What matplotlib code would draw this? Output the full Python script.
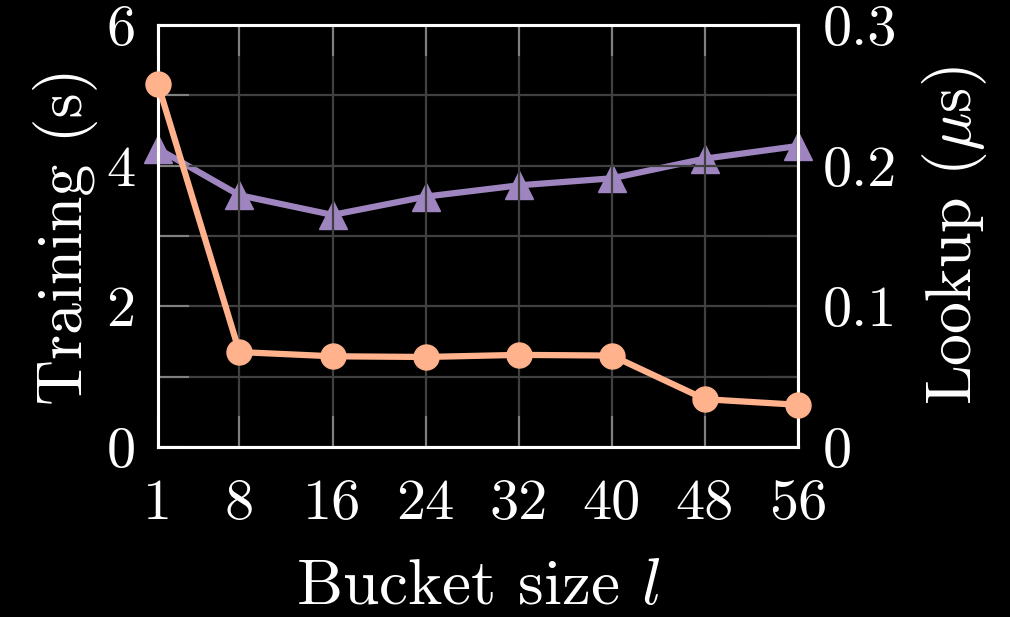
import matplotlib
matplotlib.use("Agg")
import matplotlib.pyplot as plt
from matplotlib.ticker import MultipleLocator, FixedLocator

# Bucket size sweep
bucket_sizes = [1, 8, 16, 24, 32, 40, 48, 56]
training_s = [5.16, 1.35, 1.29, 1.28, 1.31, 1.30, 0.68, 0.60]
lookup_us = [0.212, 0.179, 0.165, 0.178, 0.186, 0.191, 0.205, 0.214]

left_ticks = [0, 2, 4, 6]
right_ticks = [0, 0.1, 0.2, 0.3]
right_tick_labels = ["0", "0.1", "0.2", "0.3"]

ORANGE = "#ffb28b"
PURPLE = "#9f85c0"

plt.rcParams.update({
    "font.family": "cmr10",
    "mathtext.fontset": "cm",
    "axes.formatter.use_mathtext": True,
    "figure.facecolor": "black",
    "axes.facecolor": "black",
    "text.color": "white",
})

fig = plt.figure(figsize=(10.1, 6.17), dpi=100)
ax = fig.add_axes([0.1564, 0.2755, 0.6337, 0.684])
ax2 = ax.twinx()

# Training time on the left axis, drawn above the lookup series
ax.set_zorder(ax2.get_zorder() + 1)
ax.patch.set_visible(False)

ax2.plot(bucket_sizes, lookup_us, color=PURPLE, lw=4.5, marker="^",
         markersize=20, clip_on=False, zorder=3)
ax.plot(bucket_sizes, training_s, color=ORANGE, lw=4.5, marker="o",
        markersize=18, clip_on=False, zorder=3)

ax.set_xlim(1, 56)
ax.set_ylim(0, 6)
ax2.set_ylim(0, 0.3)

ax.xaxis.set_major_locator(FixedLocator(bucket_sizes))
ax.set_xticklabels([str(b) for b in bucket_sizes])
ax.yaxis.set_major_locator(FixedLocator(left_ticks))
ax.set_yticklabels([str(t) for t in left_ticks])
ax.yaxis.set_minor_locator(MultipleLocator(1))
ax2.yaxis.set_major_locator(FixedLocator(right_ticks))
ax2.set_yticklabels(right_tick_labels)
ax2.yaxis.set_minor_locator(MultipleLocator(0.05))

ax.grid(True, which="both", color="#404040", lw=1.6)
ax.set_axisbelow(True)

tick_kw = dict(direction="in", length=22, width=1.5, color="#808080",
               labelcolor="white", labelsize=42)
ax.tick_params(axis="x", which="both", top=True, bottom=True, pad=23, **tick_kw)
ax.tick_params(axis="y", which="both", left=True, right=False, pad=16, **tick_kw)
ax2.tick_params(axis="y", which="both", right=True, left=False, pad=18, **tick_kw)

for a in (ax, ax2):
    for s in a.spines.values():
        s.set_color("white")
        s.set_linewidth(2.2)

ax.set_xlabel("Bucket size $l$", fontsize=47, color="white", labelpad=21)
ax.set_ylabel("Training (s)", fontsize=46, color="white", labelpad=6)
ax2.set_ylabel(r"Lookup ($\mu$s)", fontsize=46, color="white", labelpad=16)

fig.savefig("out.png", dpi=100, facecolor="black")
